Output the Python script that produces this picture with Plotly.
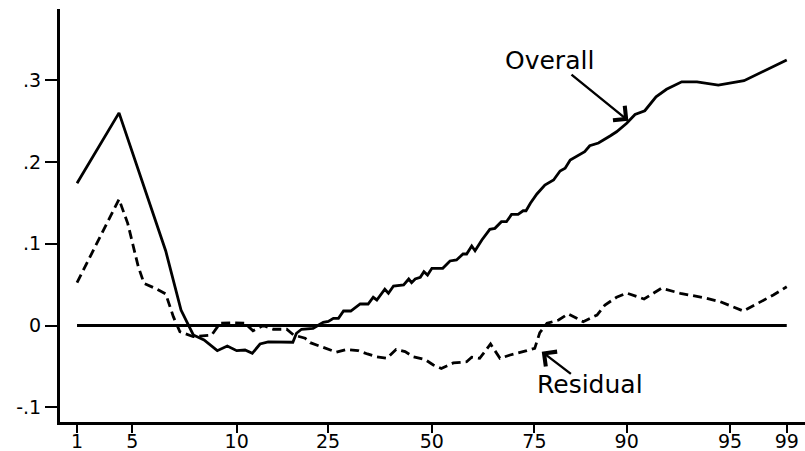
import plotly.graph_objects as go

# Position on the percentile scale (axis units) and values of each series
overall_x = [1, 6.8, 13.25, 15.36, 17.06, 18.54, 20.37, 21.75, 23.05, 24.2, 25.2, 26.27,
             27.4, 30.8, 31.3, 32.0, 33.6, 34.3, 35.0, 35.7, 36.4, 37.1, 37.8, 38.8,
             40.1, 41.2, 41.9, 42.4, 43.5, 44.0, 44.7, 46.1, 46.8, 47.2, 47.7, 48.4,
             48.9, 49.4, 50.0, 51.5, 52.5, 53.4, 54.3, 54.8, 55.5, 55.96, 56.9, 58.0,
             58.7, 59.6, 60.3, 61.0, 61.9, 62.6, 63.0, 63.6, 64.5, 65.6, 66.8, 67.7,
             68.4, 69.1, 70.2, 71.1, 71.8, 73.0, 74.6, 75.5, 76.9, 78.05, 79.4, 80.95,
             82.4, 84.5, 86.6, 89.55, 93.1, 99]
overall_y = [0.174, 0.260, 0.0911, 0.0189, -0.0116, -0.0177, -0.0308, -0.0251, -0.0308,
             -0.030, -0.034, -0.0226, -0.020, -0.0205, -0.0095, -0.0046, -0.0034, 0.0006,
             0.0039, 0.0051, 0.0088, 0.0088, 0.0177, 0.0177, 0.0263, 0.0263, 0.0345,
             0.0312, 0.0443, 0.0394, 0.0483, 0.0495, 0.0568, 0.0523, 0.0568, 0.0589,
             0.0658, 0.0617, 0.0699, 0.0699, 0.0789, 0.0801, 0.0874, 0.0874, 0.0972,
             0.0914, 0.1045, 0.1176, 0.1188, 0.1269, 0.1269, 0.1359, 0.1359, 0.1403,
             0.1403, 0.1494, 0.1608, 0.1718, 0.1779, 0.1889, 0.1922, 0.2023, 0.2076,
             0.2125, 0.2198, 0.2231, 0.2317, 0.2369, 0.2472, 0.258, 0.2626, 0.2797,
             0.2888, 0.298, 0.298, 0.294, 0.2993, 0.3246]

resid_x = [1, 6.8, 8.0, 9.46, 10.25, 12.0, 13.25, 14.3, 15.2, 17.06, 19.6, 20.75, 22.6,
           24.2, 25.3, 26.7, 28.1, 29.95, 30.9, 32.5, 33.2, 35.0, 36.8, 38.2, 39.8, 41.1,
           42.3, 43.8, 45.05, 46.3, 47.4, 49.05, 50.2, 51.3, 52.96, 54.8, 55.5, 56.6,
           58.1, 59.4, 60.8, 63.1, 64.2, 64.9, 65.9, 67.5, 68.8, 70.0, 70.9, 72.8, 73.9,
           75.5, 76.9, 79.3, 81.7, 84.3, 87.95, 89.8, 93.0, 97.15, 99]
resid_y = [0.0523, 0.1543, 0.1249, 0.0719, 0.0516, 0.0446, 0.0385, 0.0108, -0.0076,
           -0.0137, -0.0116, 0.0027, 0.0034, 0.0027, -0.0064, 0.0, -0.0046, -0.0046,
           -0.0116, -0.0156, -0.021, -0.0271, -0.0326, -0.0293, -0.0306, -0.0348,
           -0.0381, -0.0401, -0.0293, -0.032, -0.0381, -0.0416, -0.0483, -0.0526,
           -0.0458, -0.0443, -0.0389, -0.0401, -0.0226, -0.0401, -0.0361, -0.0308,
           -0.0279, -0.0088, 0.0027, 0.0067, 0.0141, 0.0088, 0.0046, 0.0128, 0.0251,
           0.0345, 0.0397, 0.0324, 0.0455, 0.0394, 0.0333, 0.0291, 0.0177, 0.0373,
           0.0474]

# Percentile tick labels and where they sit on the axis
pct_labels = ["1", "5", "10", "25", "50", "75", "90", "95", "99"]
pct_pos = [1, 8.64, 23.05, 35.66, 50, 64.16, 76.9, 91.17, 99]

y_ticks = [-0.1, 0, 0.1, 0.2, 0.3]
y_labels = ["-.1", "0", ".1", ".2", ".3"]

FONT = "DejaVu Sans"
LW = 2.8

fig = go.Figure()

# zero reference line spanning the percentile range
fig.add_trace(go.Scatter(x=[overall_x[0], overall_x[-1]], y=[0, 0], mode="lines",
                         line=dict(color="black", width=LW), hoverinfo="skip"))
fig.add_trace(go.Scatter(x=overall_x, y=overall_y, mode="lines", name="Overall",
                         line=dict(color="black", width=LW)))
fig.add_trace(go.Scatter(x=resid_x, y=resid_y, mode="lines", name="Residual",
                         line=dict(color="black", width=LW, dash="9px,5px")))

# labels with pointer arrows
fig.add_annotation(x=66.3, y=0.3242, text="Overall", showarrow=False,
                   font=dict(family=FONT, size=25, color="black"))
fig.add_annotation(x=77.13, y=0.2504, ax=69.07, ay=0.3083, axref="x", ayref="y",
                   text="", showarrow=True, arrowhead=4, arrowsize=1.5,
                   arrowwidth=2.4, arrowcolor="black")
fig.add_annotation(x=71.9, y=-0.0721, text="Residual", showarrow=False,
                   font=dict(family=FONT, size=25, color="black"))
fig.add_annotation(x=65.17, y=-0.032, ax=69.4, ay=-0.0605, axref="x", ayref="y",
                   text="", showarrow=True, arrowhead=4, arrowsize=1.5,
                   arrowwidth=2.4, arrowcolor="black")

fig.update_layout(
    width=805, height=451,
    margin=dict(l=60, r=0, t=9, b=29),
    paper_bgcolor="white", plot_bgcolor="white",
    showlegend=False,
    font=dict(family=FONT, size=19, color="black"),
)
fig.update_xaxes(range=[-1.35, 101.52], tickvals=pct_pos, ticktext=pct_labels,
                 showgrid=False, zeroline=False, showline=True, linecolor="black",
                 linewidth=3, ticks="outside", ticklen=8, tickwidth=2.2,
                 tickcolor="black", ticklabelstandoff=-8, automargin=False,
                 tickfont=dict(family=FONT, size=19, color="black"))
fig.update_yaxes(range=[-0.118, 0.387], tickvals=y_ticks, ticktext=y_labels,
                 showgrid=False, zeroline=False, showline=True, linecolor="black",
                 linewidth=3, ticks="outside", ticklen=12, tickwidth=2.2,
                 tickcolor="black", automargin=False,
                 tickfont=dict(family=FONT, size=19, color="black"))

fig.write_html("out.html")
